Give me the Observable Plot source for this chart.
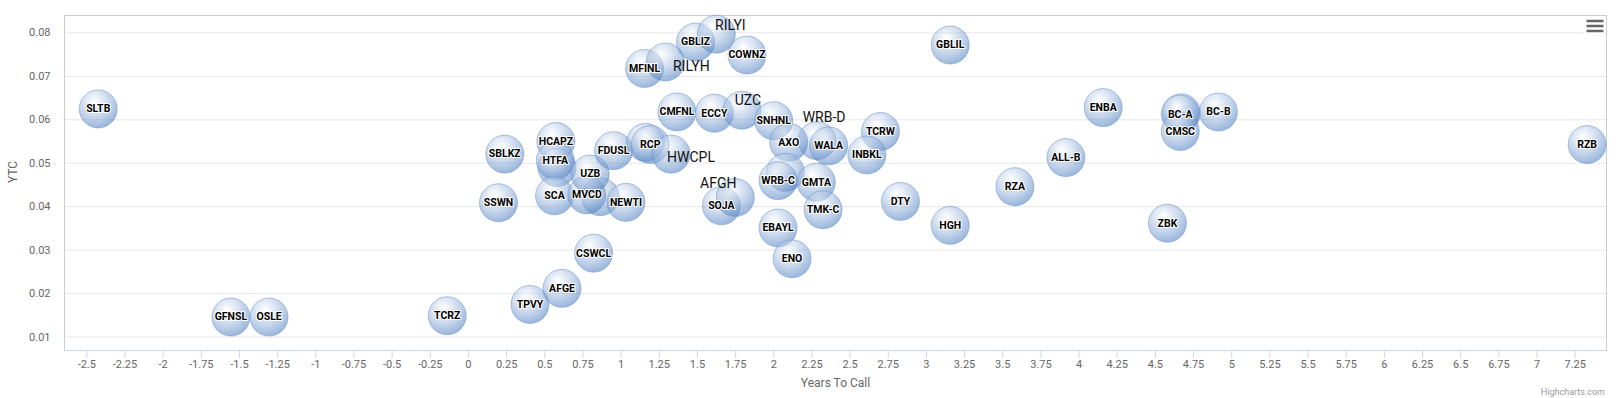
<!DOCTYPE html>
<html>
<head>
<meta charset="utf-8">
<script src="https://cdn.jsdelivr.net/npm/d3@7"></script>
<script src="https://cdn.jsdelivr.net/npm/@observablehq/plot@0.6"></script>
<style>
  html, body { margin: 0; padding: 0; background: #fff; overflow: hidden; }
  #chart { position: relative; width: 1619px; height: 398px; }
</style>
</head>
<body>
<div id="chart"></div>
<script>
// ---- Data ----
const tickers = [
  "SLTB","GFNSL","OSLE","TCRZ","SSWN","SBLKZ","TPVY","AFGE","CSWCL","HCAPZ",
  "","HTFA","SCA","","MVCD","UZB","NEWTI","FDUSL","","RCP",
  "HWCPL","MFINL","RILYH","GBLIZ","RILYI","COWNZ","CMFNL","ECCY","UZC","SNHNL",
  "WRB-D","AXO","WALA","TCRW","INBKL","SOJA","AFGH","","WRB-C","GMTA",
  "TMK-C","EBAYL","ENO","DTY","HGH","GBLIL","RZA","ALL-B","ENBA","",
  "BC-A","CMSC","BC-B","ZBK","RZB"
];
const yearsToCall = [
  -2.425,-1.556,-1.306,-0.139,0.197,0.238,0.403,0.613,0.820,0.573,
  0.580,0.569,0.564,0.864,0.776,0.798,1.032,0.951,1.160,1.191,
  1.327,1.154,1.290,1.488,1.624,1.825,1.366,1.611,1.792,2.000,
  2.284,2.098,2.360,2.699,2.610,1.657,1.748,2.076,2.028,2.279,
  2.323,2.028,2.120,2.830,3.156,3.156,3.580,3.914,4.158,4.670,
  4.663,4.663,4.913,4.579,7.328
];
const ytcValues = [
  0.0625,0.0146,0.0146,0.0149,0.0409,0.0521,0.0175,0.0212,0.0293,0.0550,
  0.0490,0.0506,0.0425,0.0423,0.0427,0.0475,0.0410,0.0529,0.0548,0.0543,
  0.0521,0.0718,0.0733,0.0779,0.0797,0.0749,0.0618,0.0615,0.0622,0.0598,
  0.0552,0.0548,0.0540,0.0573,0.0519,0.0402,0.0421,0.0479,0.0460,0.0456,
  0.0393,0.0351,0.0280,0.0412,0.0357,0.0772,0.0446,0.0513,0.0628,0.0616,
  0.0613,0.0573,0.0618,0.0362,0.0543
];
const bigLabelTickers = ["RILYI","RILYH","UZC","WRB-D","HWCPL","AFGH"];
const xTickValues = d3.range(-2.5, 7.26, 0.25);
const yTickValues = [0.01,0.02,0.03,0.04,0.05,0.06,0.07,0.08];

// ---- Table built from the arrays ----
const data = tickers.map((t, i) => ({ticker: t, x: yearsToCall[i], y: ytcValues[i]}));
const smallLabels = data.filter(d => d.ticker && !bigLabelTickers.includes(d.ticker));

// pixel offsets for the larger (displaced) labels
const bigOffsets = {
  "RILYI": [14, -9], "RILYH": [26, 5], "UZC": [6, -10],
  "WRB-D": [7, -23], "HWCPL": [20, 3], "AFGH": [-17, -14]
};

const font = "Roboto, 'Noto Sans', sans-serif";
const fmtX = d => String(+d.toFixed(2));

const bigLabelMarks = bigLabelTickers.map(t => Plot.text(data.filter(d => d.ticker === t), {
  x: "x", y: "y", text: "ticker", dx: bigOffsets[t][0], dy: bigOffsets[t][1],
  fill: "#111", fontSize: 14, fontWeight: "normal", fontFamily: font
}));

const chart = Plot.plot({
  width: 1619,
  height: 398,
  marginLeft: 64,
  marginRight: 13,
  marginTop: 15,
  marginBottom: 48,
  style: {fontFamily: font, fontSize: "11px", color: "#666", background: "#fff", overflow: "visible"},
  x: {domain: [-2.646, 7.455]},
  y: {domain: [0.0069, 0.0840]},
  marks: [
    Plot.gridY(yTickValues, {stroke: "#e6e6e6", strokeOpacity: 1}),
    Plot.frame({stroke: "#cccccc"}),
    Plot.ruleY([0.0069], {stroke: "#ccd6eb"}),
    Plot.axisX({ticks: xTickValues, tickFormat: fmtX, tickSize: 8, tickPadding: 2,
      stroke: "#ccd6eb", strokeOpacity: 1, fill: "#666", fontSize: 11, label: null}),
    Plot.axisY({ticks: yTickValues, tickFormat: d3.format(".2f"), tickSize: 0, tickPadding: 14,
      fill: "#666", fontSize: 11, label: null}),
    Plot.text(["Years To Call"], {frameAnchor: "bottom", dy: 36, fill: "#666", fontSize: 12, fontFamily: font}),
    Plot.text(["YTC"], {frameAnchor: "left", dx: -51, rotate: -90, fill: "#666", fontSize: 12, fontFamily: font}),
    Plot.dot(data, {x: "x", y: "y", r: 19, fill: "url(#bubbleGrad)", stroke: "#6f96cc", strokeOpacity: 0.55, strokeWidth: 1}),
    Plot.text(smallLabels, {x: "x", y: "y", text: "ticker", fill: "#000", stroke: "#fff", strokeWidth: 2,
      fontSize: 10.5, fontWeight: "bold", fontFamily: font}),
    ...bigLabelMarks
  ]
});

// radial gradient for the bubbles
const svg = d3.select(chart);
const defs = svg.insert("defs", ":first-child");
const grad = defs.append("radialGradient").attr("id", "bubbleGrad")
  .attr("cx", 0.4).attr("cy", 0.3).attr("r", 0.7);
grad.append("stop").attr("offset", "0").attr("stop-color", "#ffffff").attr("stop-opacity", 0.5);
grad.append("stop").attr("offset", "1").attr("stop-color", "#4a7cc0").attr("stop-opacity", 0.55);

// context menu button
const menu = svg.append("g");
menu.append("rect").attr("x", 1583).attr("y", 16).attr("width", 22).attr("height", 22).attr("fill", "#fff");
[21, 26, 31].forEach(y => menu.append("line").attr("x1", 1586.5).attr("x2", 1603.5)
  .attr("y1", y).attr("y2", y).attr("stroke", "#666").attr("stroke-width", 2.5));

// credits
svg.append("text").attr("x", 1605).attr("y", 395).attr("text-anchor", "end")
  .attr("fill", "#999").attr("font-size", 9).attr("font-family", font).text("Highcharts.com");

document.getElementById("chart").appendChild(chart);
</script>
</body>
</html>
